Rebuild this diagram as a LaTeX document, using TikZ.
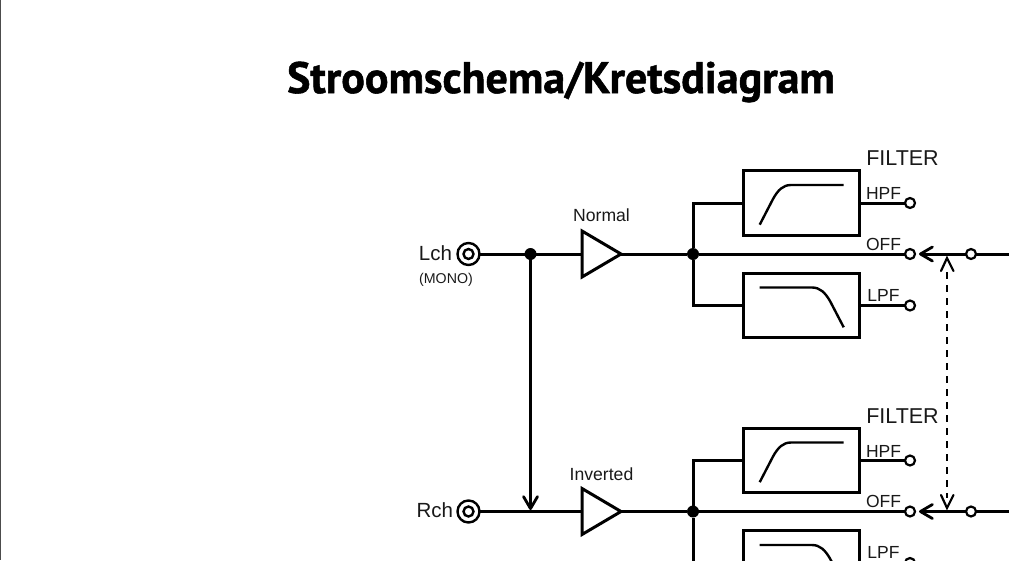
\documentclass[tikz,border=0pt]{standalone}
\usepackage{fontspec}
\setmainfont{Liberation Sans}
\newfontfamily\titlefont[FakeBold=1.2]{PT Sans}
\usetikzlibrary{arrows.meta,shapes.geometric,calc}
\tikzset{
  wire/.style={line width=3pt,draw=black},
  filterbox/.style={rectangle,draw=black,line width=3pt,minimum width=115.5pt,minimum height=64.5pt,inner sep=0pt,outer sep=0pt},
  terminal/.style={circle,draw=black,fill=white,line width=2.2pt,minimum size=10pt,inner sep=0pt,outer sep=0pt},
  jack/.style={circle,draw=black,line width=2.4pt,minimum size=22pt,inner sep=0pt,outer sep=0pt,fill=white},
  jackin/.style={circle,draw=black,line width=2.4pt,minimum size=10pt,inner sep=0pt,outer sep=0pt},
  junction/.style={circle,fill=black,minimum size=12pt,inner sep=0pt,outer sep=0pt},
  lab/.style={inner sep=0pt,outer sep=0pt,anchor=base,text=black!90},
  openhead/.style={-{Straight Barb[length=12pt,width=14pt,line width=2.8pt,round]}},
  dashline/.style={line width=2.2pt,dash pattern=on 7pt off 6pt},
  thinhead/.style={line width=2.2pt,line cap=round},
}
\begin{document}
\begin{tikzpicture}[x=1pt,y=-1pt]
\useasboundingbox (0,0) rectangle (1009,560);
\fill[black!70] (0,0) rectangle (1.2,560);
\node[lab,text=black,font=\titlefont\bfseries\fontsize{44}{48}\selectfont] (title) at (561,93) {Stroomschema/Kretsdiagram};

\foreach \p/\oy/\ly in {a/0/301.5,b/257.5/300.5}{
  \begin{scope}[yshift=-\oy pt]
  \node[jack] (\p jack) at (468.5,254) {};
  \node[jackin] (\p jackin) at (468.5,254) {};
  \coordinate (\p ampin) at (582,254);
  \coordinate (\p ampout) at (621,254);
  \node[junction] (\p j) at (693,254) {};
  \node[filterbox] (\p hpf) at (801.3,203) {};
  \node[filterbox] (\p lpf) at (801.3,305.5) {};
  \node[terminal] (\p th) at (910,203) {};
  \node[terminal] (\p to) at (910,254) {};
  \node[terminal] (\p tl) at (910,305.5) {};
  \node[terminal] (\p tr) at (971,254) {};
  \coordinate (\p out) at (1009,254);
  \coordinate (\p tip) at (919,254);
  \draw[wire] (\p jack.east) -- (\p ampin);
  \draw[wire,line join=miter] (582,231) -- (621,254) -- (582,277) -- cycle;
  \draw[wire] (\p ampout) -- (\p j);
  \draw[wire] (\p j) -- (\p to);
  \draw[wire] (\p j) |- (\p hpf.west);
  \draw[wire] (\p j) |- (\p lpf.west);
  \draw[wire] (\p hpf.east) -- (\p th);
  \draw[wire] (\p lpf.east) -- (\p tl);
  \draw[wire] (\p tr) -- (\p out);
  \draw[wire,openhead] (\p tr) -- (\p tip);
  \draw[line width=2.4pt] (759.7,224.7) -- (773,199) .. controls (778,190) and (783,185) .. (791,185) -- (843.7,185);
  \draw[line width=2.4pt] (759.7,287.5) -- (812,287.5) .. controls (820,287.5) and (825,292.5) .. (830,301) -- (843.7,327.3);
  \node[lab,font=\fontsize{21.5}{24}\selectfont] (\p filter) at (902.5,165.7) {FILTER};
  \node[lab,font=\fontsize{17.5}{20}\selectfont] (\p hl) at (883.5,199.5) {HPF};
  \node[lab,font=\fontsize{17.5}{20}\selectfont] (\p ol) at (883.5,250) {OFF};
  \node[lab,font=\fontsize{17.5}{20}\selectfont] (\p ll) at (883.5,\ly) {LPF};
  \end{scope}
}
\node[lab,font=\fontsize{20.5}{24}\selectfont,anchor=base east] (lch) at (452,260) {Lch};
\node[lab,font=\fontsize{14.2}{16}\selectfont] (mono) at (446,283) {(MONO)};
\node[lab,font=\fontsize{20.5}{24}\selectfont,anchor=base east] (rch) at (453,517.5) {Rch};
\node[lab,font=\fontsize{17.6}{20}\selectfont] (normal) at (601.5,221.5) {Normal};
\node[lab,font=\fontsize{17.6}{20}\selectfont] (inverted) at (601.5,480) {Inverted};
\node[junction] (split) at (530.5,254) {};
\coordinate (splitend) at (530.5,510);
\draw[wire,openhead] (split) -- (splitend);
\coordinate (dtop) at (947,258);
\coordinate (dbot) at (947,508);
\draw[dashline] (947,272) -- (947,498);
\draw[thinhead] (941,271) -- (dtop) -- (953.5,271);
\draw[thinhead] (941,495) -- (dbot) -- (953.5,495);
\end{tikzpicture}
\end{document}
